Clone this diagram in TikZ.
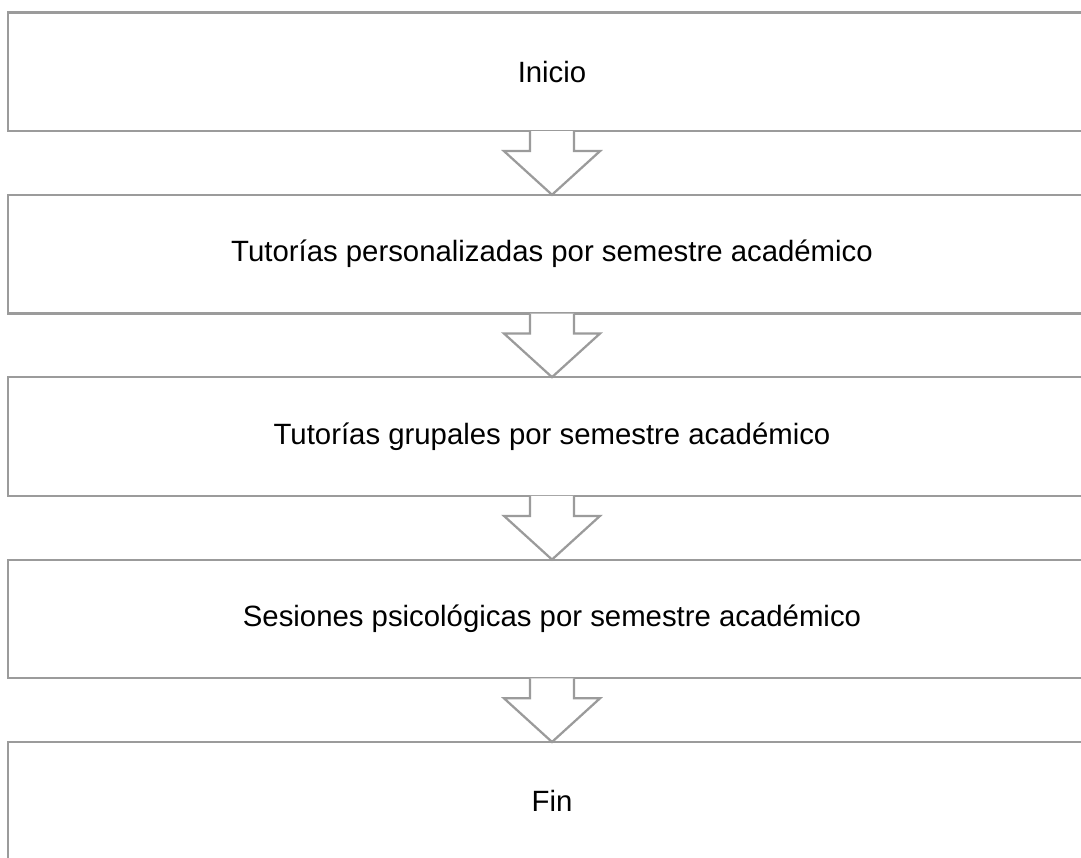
\documentclass[tikz,border=0pt]{standalone}
\usepackage{fontspec}
\setmainfont{Liberation Sans}
\usetikzlibrary{positioning}
\definecolor{gris}{RGB}{155,155,155}
\tikzset{
	paso/.style={draw=gris, line width=0.045cm, minimum width=21.76cm, minimum height=2.37cm, inner sep=0pt, font=\fontsize{16.7}{20}\selectfont},
	flecha/.style={draw=gris, line width=0.045cm, fill=white}
}

\begin{document}
\begin{tikzpicture}[node distance=1.233cm]
	\clip (0,0) rectangle (21.62,17.14);

	\node[paso] (inicio) at (11.04,15.705) {Inicio};
	\node[paso, below=of inicio] (tutper) {Tutorías personalizadas por semestre académico};
	\node[paso, below=of tutper] (tutgru) {Tutorías grupales por semestre académico};
	\node[paso, below=of tutgru] (sesion) {Sesiones psicológicas por semestre académico};
	\node[paso, below=of sesion] (fin) {Fin};

	% flechas entre pasos
	\foreach \a/\b in {inicio/tutper, tutper/tutgru, tutgru/sesion, sesion/fin}
		\draw[flecha] ([xshift=-0.44cm, yshift=0.02cm]\a.south) -- ++(0,-0.4) -- ++(-0.52,0)
			-- ([yshift=-0.02cm]\b.north) -- ([xshift=0.96cm, yshift=-0.38cm]\a.south)
			-- ++(-0.52,0) -- ([xshift=0.44cm, yshift=0.02cm]\a.south);
\end{tikzpicture}
\end{document}
